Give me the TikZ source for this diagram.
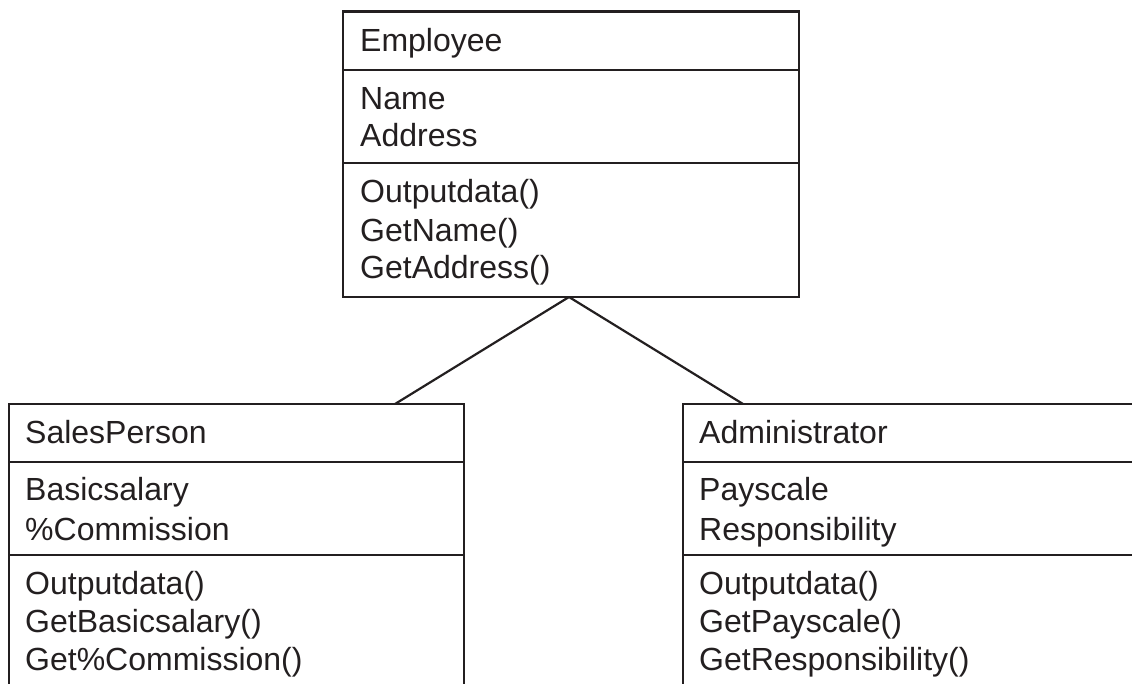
\documentclass[tikz,border=0pt]{standalone}
\usepackage{fontspec}
\setmainfont{Liberation Sans}
\definecolor{ink}{HTML}{231F20}
\tikzset{
  boxline/.style={line width=2.6pt, draw=ink},
  sepline/.style={line width=1.8pt, draw=ink},
  link/.style={line width=2.2pt, draw=ink},
  lbl/.style={anchor=base west, inner sep=0pt, font=\fontsize{32}{38}\selectfont, text=ink},
}
\begin{document}
\begin{tikzpicture}[x=1pt,y=-1pt]
\clip (0,0) rectangle (1132,684);
\fill[white] (0,0) rectangle (1132,684);
% Employee
\draw[boxline] (343,11.5) rectangle (799,297);
\draw[sepline] (343,70) -- (799,70);
\draw[sepline] (343,163) -- (799,163);
\node[lbl] (emp) at (360,52) {Employee};
\node[lbl] (empA1) at (360,110) {Name};
\node[lbl] (empA2) at (360,147) {Address};
\node[lbl] (empM1) at (360,203) {Outputdata()};
\node[lbl] (empM2) at (360,242) {GetName()};
\node[lbl] (empM3) at (360,279) {GetAddress()};
% SalesPerson
\draw[boxline] (9,700) -- (9,404) -- (464,404) -- (464,700);
\draw[sepline] (9,462) -- (464,462);
\draw[sepline] (9,555) -- (464,555);
\node[lbl] (sp) at (25,443) {SalesPerson};
\node[lbl] (spA1) at (25,500) {Basicsalary};
\node[lbl] (spA2) at (25,540) {\%Commission};
\node[lbl] (spM1) at (25,594) {Outputdata()};
\node[lbl] (spM2) at (25,632) {GetBasicsalary()};
\node[lbl] (spM3) at (25,670) {Get\%Commission()};
% Administrator
\draw[boxline] (683,700) -- (683,404) -- (1140,404);
\draw[sepline] (683,462) -- (1140,462);
\draw[sepline] (683,555) -- (1140,555);
\node[lbl] (ad) at (699,443) {Administrator};
\node[lbl] (adA1) at (699,500) {Payscale};
\node[lbl] (adA2) at (699,540) {Responsibility};
\node[lbl] (adM1) at (699,594) {Outputdata()};
\node[lbl] (adM2) at (699,632) {GetPayscale()};
\node[lbl] (adM3) at (699,670) {GetResponsibility()};
% connectors
\coordinate (apex) at (569,297);
\coordinate (spTop) at (395,404);
\coordinate (adTop) at (743,404);
\draw[link] (apex) -- (spTop);
\draw[link] (apex) -- (adTop);
\end{tikzpicture}
\end{document}
